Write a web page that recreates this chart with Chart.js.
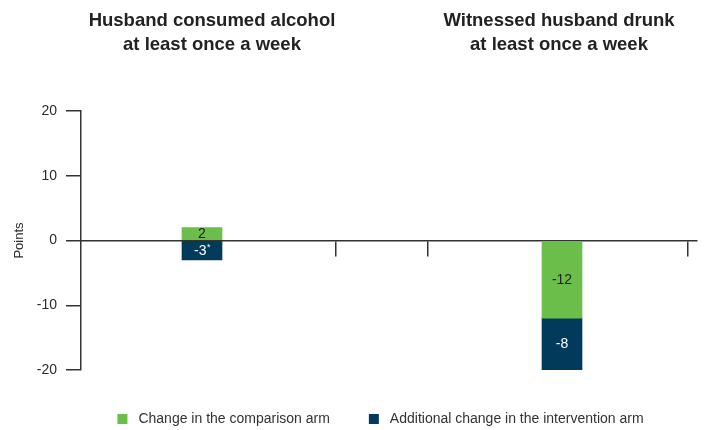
<!DOCTYPE html>
<html>
<head>
<meta charset="utf-8">
<script src="https://cdn.jsdelivr.net/npm/chart.js@4/dist/chart.umd.min.js"></script>
<style>
  html, body { margin: 0; padding: 0; background: #ffffff; }
  #wrap { width: 704px; height: 430px; }
</style>
</head>
<body>
<div id="wrap"><canvas id="chart" width="704" height="430"></canvas></div>
<script>
// Outcome panels (each title is split over two lines)
const outcomes = [
  ['Husband consumed alcohol', 'at least once a week'],
  ['Witnessed husband drunk', 'at least once a week']
];
// Change in the comparison arm, in points
const comparisonChange = [2, -12];
// Additional change in the intervention arm, in points
const interventionChange = [-3, -8];
// Significance markers attached to the intervention labels
const interventionMarks = ['*', ''];
// Value axis ticks
const yTicks = [-20, -10, 0, 10, 20];
const seriesNames = ['Change in the comparison arm', 'Additional change in the intervention arm'];

// Horizontal layout on a plain linear axis (0 .. X_MAX)
const X_MAX = 61.6;
const barCenters = [12.1, 48.1];
const titleCenters = [13.1, 47.8];
const separatorTicks = [25.5, 34.7, 60.7];

const GREEN = '#6cbe4b';
const NAVY = '#023a5c';
const INK = '#2b2b2b';
const AXIS = '#333333';
const FONT = '"Liberation Sans", Arial, sans-serif';

// Value labels centred inside each bar segment
const barLabels = {
  id: 'barLabels',
  afterDatasetsDraw(chart) {
    const ctx = chart.ctx;
    ctx.save();
    ctx.textBaseline = 'middle';
    chart.data.datasets.forEach((ds, di) => {
      const meta = chart.getDatasetMeta(di);
      meta.data.forEach((bar, i) => {
        const { x, y, base } = bar.getProps(['x', 'y', 'base'], true);
        const cy = (y + base) / 2;
        const main = String(ds.data[i].y);
        const mark = ds.marks ? ds.marks[i] : '';
        ctx.fillStyle = ds.labelColor;
        ctx.font = '14px ' + FONT;
        const wMain = ctx.measureText(main).width;
        ctx.font = '9px ' + FONT;
        const wMark = mark ? ctx.measureText(mark).width : 0;
        const x0 = x - (wMain + wMark) / 2;
        ctx.font = '14px ' + FONT;
        ctx.textAlign = 'left';
        ctx.fillText(main, x0, cy + 0.5);
        if (mark) {
          ctx.font = '9px ' + FONT;
          ctx.fillText(mark, x0 + wMain + 0.5, cy - 3);
        }
      });
    });
    ctx.restore();
  }
};

// Panel titles above the plot and the legend below it
const panelTextAndLegend = {
  id: 'panelTextAndLegend',
  afterDraw(chart) {
    const ctx = chart.ctx;
    const xs = chart.scales.x;
    ctx.save();
    ctx.fillStyle = '#222222';
    ctx.font = 'bold 18.5px ' + FONT;
    ctx.textAlign = 'center';
    ctx.textBaseline = 'alphabetic';
    outcomes.forEach((lines, i) => {
      const cx = xs.getPixelForValue(titleCenters[i]);
      lines.forEach((line, li) => ctx.fillText(line, cx, 26 + li * 24));
    });

    // legend
    ctx.font = '14px ' + FONT;
    ctx.textAlign = 'left';
    ctx.textBaseline = 'middle';
    const box = 10, gapText = 11, gapItem = 39;
    const items = chart.data.datasets.map(ds => ({
      label: ds.label, color: ds.backgroundColor, w: ctx.measureText(ds.label).width
    }));
    const total = items.reduce((s, it) => s + box + gapText + it.w, 0) + gapItem * (items.length - 1);
    let x = 380.5 - total / 2;
    const cy = 419;
    items.forEach(it => {
      ctx.fillStyle = it.color;
      ctx.fillRect(x, cy - box / 2, box, box);
      ctx.fillStyle = '#333333';
      ctx.fillText(it.label, x + box + gapText, cy + 0.5);
      x += box + gapText + it.w + gapItem;
    });
    ctx.restore();
  }
};

const ctx = document.getElementById('chart').getContext('2d');
new Chart(ctx, {
  type: 'bar',
  data: {
    datasets: [
      {
        label: seriesNames[0],
        data: comparisonChange.map((v, i) => ({ x: barCenters[i], y: v })),
        backgroundColor: GREEN,
        labelColor: '#222222',
        barThickness: 40,
        grouped: false
      },
      {
        label: seriesNames[1],
        data: interventionChange.map((v, i) => ({ x: barCenters[i], y: v })),
        backgroundColor: NAVY,
        labelColor: '#ffffff',
        marks: interventionMarks,
        barThickness: 40,
        grouped: false
      }
    ]
  },
  options: {
    responsive: false,
    animation: false,
    layout: { padding: { top: 111, right: 7, bottom: 60, left: 0 } },
    plugins: {
      legend: { display: false },
      tooltip: { enabled: false }
    },
    scales: {
      x: {
        type: 'linear',
        position: { y: 0 },
        offset: false,
        bounds: 'ticks',
        min: 0,
        max: X_MAX,
        afterBuildTicks(scale) { scale.ticks = separatorTicks.map(v => ({ value: v })); },
        ticks: { display: false },
        grid: { offset: false, drawOnChartArea: false, drawTicks: true, tickLength: 15, color: AXIS, lineWidth: 1.5 },
        border: { display: true, color: AXIS, width: 1.5 }
      },
      y: {
        stacked: true,
        min: -20,
        max: 20,
        afterBuildTicks(scale) { scale.ticks = yTicks.map(v => ({ value: v })); },
        afterFit(scale) { scale.width = 81; },
        ticks: { color: INK, font: { family: FONT, size: 14 }, padding: 9 },
        grid: { drawOnChartArea: false, drawTicks: true, tickLength: 15, color: AXIS, lineWidth: 1.5 },
        border: { display: true, color: AXIS, width: 1.5 },
        title: { display: true, text: 'Points', color: INK, font: { family: FONT, size: 13 }, padding: { top: 12, bottom: 4 } }
      }
    }
  },
  plugins: [barLabels, panelTextAndLegend]
});
</script>
</body>
</html>
